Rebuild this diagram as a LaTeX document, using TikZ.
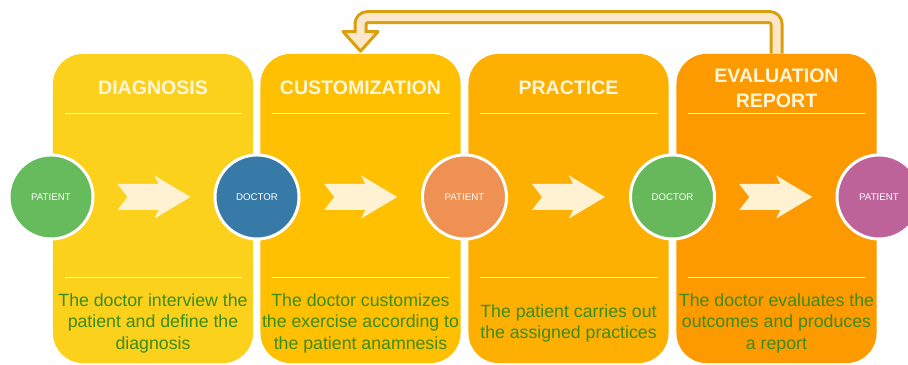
\documentclass[tikz,border=0pt]{standalone}
\usepackage{fontspec}
\setmainfont{Liberation Sans}
\usetikzlibrary{positioning,calc}

\definecolor{diagfill}{HTML}{FCD11C}
\definecolor{custfill}{HTML}{FEC000}
\definecolor{pracfill}{HTML}{FDB002}
\definecolor{evalfill}{HTML}{FD9A00}
\definecolor{patgreen}{HTML}{66BB5C}
\definecolor{docblue}{HTML}{3779A7}
\definecolor{patorange}{HTML}{EE9152}
\definecolor{docgreen}{HTML}{66B85B}
\definecolor{patpurple}{HTML}{BD6399}
\definecolor{taskgreen}{HTML}{3A8C1B}
\definecolor{headwhite}{HTML}{FFF6DC}
\definecolor{chevfill}{HTML}{FFF2D2}
\definecolor{loopgold}{HTML}{D9A00C}
\definecolor{loopfill}{HTML}{FDE6CA}

\tikzset{
  phase/.style={rounded corners=0.75cm, minimum width=5cm, minimum height=7.725cm, inner sep=0pt},
  role/.style={circle, draw=white, line width=0.075cm, minimum size=2.1cm, inner sep=0pt,
    text=white, font=\fontsize{6.9}{8}\selectfont},
  phasetitle/.style={text=headwhite, font=\fontsize{13.9}{17.8}\selectfont\bfseries, align=center},
  task/.style={text=taskgreen, font=\fontsize{12.6}{15.3}\selectfont, align=center},
  divider/.style={draw=headwhite, line width=0.0375cm},
  chevron/.pic={
    \fill[chevfill] (-36.5,13) -- (-26.5,0) -- (-36.5,-13) -- (4.5,-13) -- (0.5,-21.5)
      -- (36.5,0) -- (0.5,21.5) -- (4.5,13) -- cycle;
  }
}

\begin{document}
\begin{tikzpicture}[x=0.025cm, y=0.025cm]
  \fill[white] (0,0) rectangle (908,365);
  \useasboundingbox (0,0) rectangle (908,365);

  % the four phases
  \node[phase, fill=diagfill] (diag) at (153,156.5) {};
  \node[phase, fill=custfill] (cust) at (360.5,156.5) {};
  \node[phase, fill=pracfill] (prac) at (568.5,156.5) {};
  \node[phase, fill=evalfill] (eval) at (776.5,156.5) {};

  \foreach \p in {diag,cust,prac,eval} {
    \draw[divider] ($(\p.north west)+(12,-60)$) -- ($(\p.north east)+(-11,-60)$);
    \draw[divider] ($(\p.south west)+(12,86)$) -- ($(\p.south east)+(-11,86)$);
  }

  \node[phasetitle] (diagT) at (153,277) {DIAGNOSIS};
  \node[phasetitle] (custT) at (360.5,277) {CUSTOMIZATION};
  \node[phasetitle] (pracT) at (568.5,277) {PRACTICE};
  \node[phasetitle] (evalT) at (776.5,276.5) {EVALUATION\\REPORT};

  \node[task] (diagB) at (153,42) {The doctor interview the\\patient and define the\\diagnosis};
  \node[task] (custB) at (360.5,42) {The doctor customizes\\the exercise according to\\the patient anamnesis};
  \node[task] (pracB) at (568.5,41.5) {The patient carries out\\the assigned practices};
  \node[task] (evalB) at (776.5,42) {The doctor evaluates the\\outcomes and produces\\a report};

  % who acts at each hand-over
  \node[role, fill=patgreen] (pat1) at (51,168) {PATIENT};
  \node[role, fill=docblue] (doc1) at (257,168) {DOCTOR};
  \node[role, fill=patorange] (pat2) at (464.5,168) {PATIENT};
  \node[role, fill=docgreen] (doc2) at (672.5,168) {DOCTOR};
  \node[role, fill=patpurple] (pat3) at (879,168) {PATIENT};

  \path (pat1) -- pic{chevron} (doc1);
  \path (doc1) -- pic{chevron} (pat2);
  \path (pat2) -- pic{chevron} (doc2);
  \path (doc2) -- pic{chevron} (pat3);

  % feedback loop back to customization
  \coordinate (loophead) at ($(cust.north)+(0,22)$);
  \draw[loopgold, line width=0.35cm, rounded corners=0.175cm]
    (eval.north) -- ++(0,36.5) -| (loophead);
  \filldraw[fill=loopfill, draw=loopgold, line width=0.075cm, line join=round]
    ($(loophead)+(-17.5,0)$) -- ($(cust.north)+(0,2.5)$) -- ($(loophead)+(17.5,0)$) -- cycle;
  \draw[loopfill, line width=0.2cm, rounded corners=0.175cm]
    (eval.north) -- ++(0,36.5) -| ($(loophead)+(0,-2.5)$);
\end{tikzpicture}
\end{document}
